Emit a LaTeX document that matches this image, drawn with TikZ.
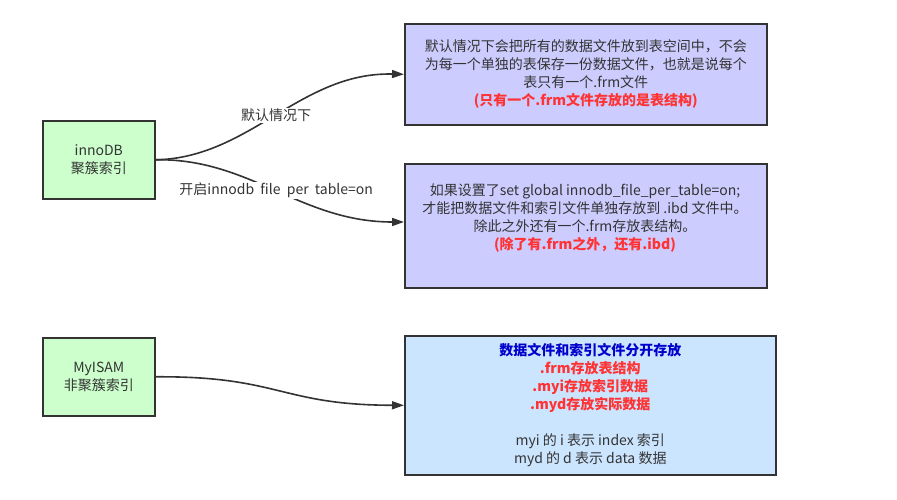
\documentclass[tikz,border=0pt]{standalone}
\usepackage{fontspec}
\setmainfont{Noto Sans CJK SC}
\usetikzlibrary{arrows.meta}
\definecolor{txt}{HTML}{333333}
\definecolor{lav}{HTML}{CCCCFF}
\definecolor{lblue}{HTML}{CCE5FF}
\definecolor{lgreen}{HTML}{CCFFCC}
\definecolor{redt}{HTML}{FF3333}
\definecolor{bluet}{HTML}{0000CC}
\tikzset{
  x=1pt,y=-1pt,
  box/.style={draw=txt,line width=1.6pt,inner sep=0pt,anchor=north west,text=txt,align=center},
  greenbox/.style={box,fill=lgreen,minimum width=112pt,minimum height=78pt},
  lbl/.style={fill=white,text=txt,inner sep=1pt},
  conn/.style={draw=txt,line width=1.6pt,-{Triangle[length=12pt,width=8pt]}},
  every node/.style={font=\fontsize{14}{18}\selectfont}
}
\begin{document}
\begin{tikzpicture}
\useasboundingbox (0,0) rectangle (897,500);
\node[greenbox] (inno) at (42,120) {innoDB\\聚簇索引};
\node[greenbox] (myi) at (42,337) {MyISAM\\非聚簇索引};
\node[box,fill=lav,minimum width=362pt,minimum height=101pt] (b1) at (404,23)
  {默认情况下会把所有的数据文件放到表空间中，不会\\为每一个单独的表保存一份数据文件，也就是说每个\\表只有一个.frm文件\\\textcolor{redt}{\bfseries (只有一个.frm文件存放的是表结构)}};
\node[box,fill=lav,minimum width=362pt,minimum height=124pt] (b2) at (404,163) {};
\node[text=txt,align=center,inner sep=0pt] (b2t) at (585,218)
  {如果设置了set global innodb\_file\_per\_table=on;\\才能把数据文件和索引文件单独存放到 .ibd 文件中。\\除此之外还有一个.frm存放表结构。\\\textcolor{redt}{\bfseries (除了有.frm之外，还有.ibd)}};
\node[box,fill=lblue,minimum width=371pt,minimum height=139pt] (b3) at (404,335)
  {\textcolor{bluet}{\bfseries 数据文件和索引文件分开存放}\\
   \textcolor{redt}{\bfseries .frm存放表结构}\\
   \textcolor{redt}{\bfseries .myi存放索引数据}\\
   \textcolor{redt}{\bfseries .myd存放实际数据}\\[18pt]
   myi 的 i 表示 index 索引\\myd 的 d 表示 data 数据};
\draw[conn] (inno.east) .. controls (250,158) and (300,72) .. (b1.west)
  node[lbl,pos=0.5] (l1) {默认情况下};
\draw[conn] (inno.east) .. controls (250,158) and (300,222) .. (b2.west |- 0,222)
  node[lbl,pos=0.5] (l2) {开启innodb\ \ file\ \ per\ \ table=on};
\draw[conn] (myi.east) .. controls (280,376) and (280,405) .. (b3.west);
\end{tikzpicture}
\end{document}
